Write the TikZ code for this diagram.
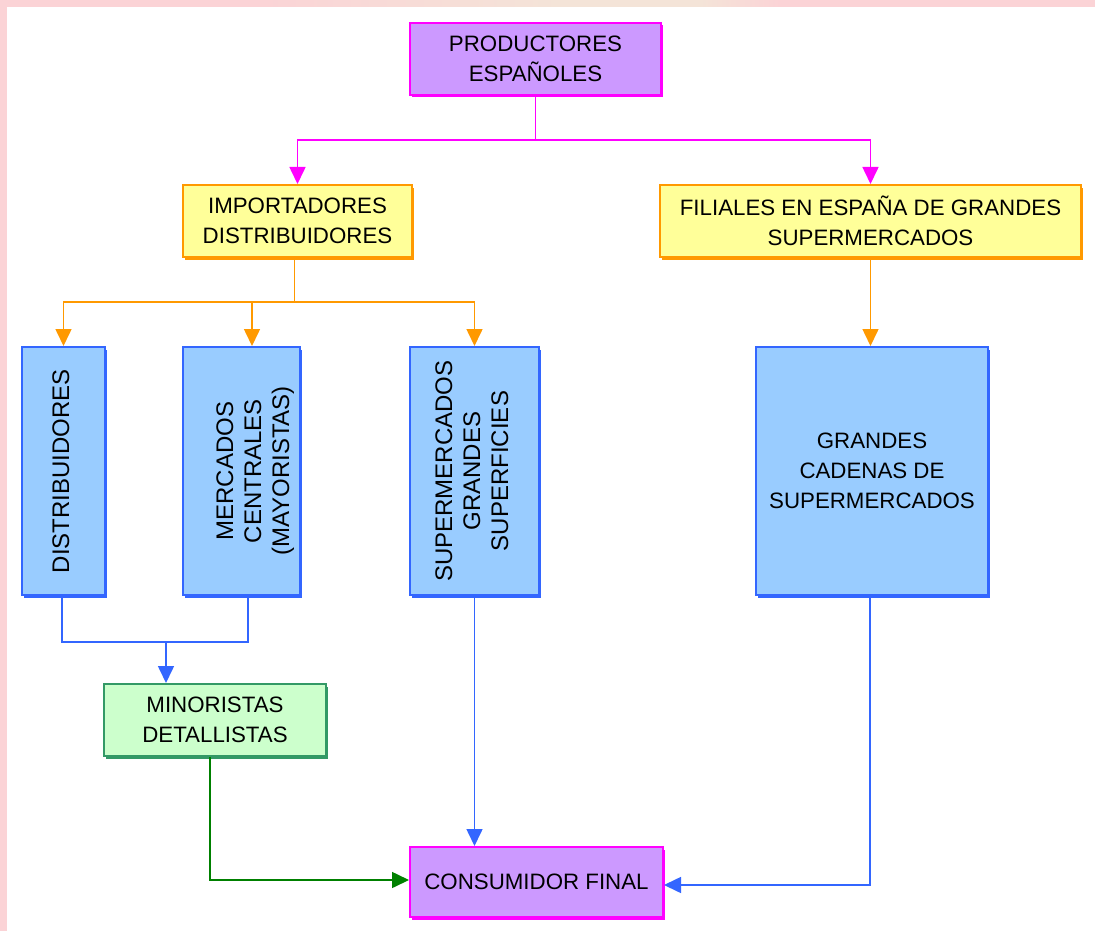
\documentclass[tikz,border=0pt]{standalone}
\usepackage{fontspec}
\setmainfont{Liberation Sans}
\usetikzlibrary{arrows.meta,shadows}

\definecolor{magline}{HTML}{FF00FF}
\definecolor{lilac}{HTML}{CC99FF}
\definecolor{orline}{HTML}{FF9900}
\definecolor{lemon}{HTML}{FFFF99}
\definecolor{blline}{HTML}{3366FF}
\definecolor{skyfill}{HTML}{99CCFF}
\definecolor{grline}{HTML}{339966}
\definecolor{mint}{HTML}{CCFFCC}
\definecolor{grarrow}{HTML}{008000}
\definecolor{rosebg}{HTML}{FBD3D6}
\definecolor{sandbg}{HTML}{F4E4D8}

\newcommand{\hfont}{\fontsize{22.3}{30}\selectfont}
\newcommand{\vfont}{\fontsize{24}{28}\selectfont}
\newcommand{\vtext}[1]{\rotatebox{90}{\vfont\begin{tabular}{@{}c@{}}#1\end{tabular}}}

\begin{document}
\begin{tikzpicture}[x=1pt,y=-1pt,
  box/.style={draw=#1, line width=2pt, inner sep=0pt, align=center,
    font=\hfont,
    drop shadow={shadow xshift=1.5pt, shadow yshift=-2.5pt, fill=#1, opacity=1}},
  purplebox/.style={box=magline, fill=lilac},
  yellowbox/.style={box=orline, fill=lemon},
  bluebox/.style={box=blline, fill=skyfill},
  greenbox/.style={box=grline, fill=mint},
  link/.style={line width=1.6pt},
  tip/.style={-{Triangle[length=17pt,width=16pt]}},
  maglink/.style={link, draw=magline},
  orlink/.style={link, draw=orline},
  bllink/.style={link, draw=blline},
  grlink/.style={link, draw=grarrow}]

% page and its tinted edges
\useasboundingbox (0,0) rectangle (1095,931);
\fill[white] (0,0) rectangle (1095,931);
\fill[rosebg] (0,0) rectangle (7,931);
\fill[rosebg] (0,0) rectangle (1095,7);
\shade[left color=rosebg, right color=sandbg] (250,0) rectangle (560,7);
\fill[sandbg] (560,0) rectangle (700,7);
\shade[left color=sandbg, right color=rosebg] (700,0) rectangle (780,7);

% boxes
\node[purplebox, minimum width=251pt, minimum height=72pt] (prod) at (535.5,59)
  {PRODUCTORES\\ESPAÑOLES};
\node[yellowbox, minimum width=229pt, minimum height=72pt] (imp) at (297.5,221)
  {IMPORTADORES\\DISTRIBUIDORES};
\node[yellowbox, minimum width=421pt, minimum height=72pt] (fil) at (870.5,221)
  {FILIALES EN ESPAÑA DE GRANDES\\SUPERMERCADOS};
\node[bluebox, minimum width=83pt, minimum height=248pt] (dist) at (63.5,471)
  {\vtext{DISTRIBUIDORES}};
\node[bluebox, minimum width=117pt, minimum height=248pt] (merc) at (241.5,471)
  {\hspace*{28pt}\vtext{MERCADOS\\CENTRALES\\(MAYORISTAS)}};
\node[bluebox, minimum width=129pt, minimum height=248pt] (sup) at (474.5,471)
  {\vtext{SUPERMERCADOS\\GRANDES\\SUPERFICIES}};
\node[bluebox, minimum width=232pt, minimum height=248pt] (cad) at (872,471)
  {GRANDES\\CADENAS DE\\SUPERMERCADOS};
\node[greenbox, minimum width=222pt, minimum height=72pt] (mino) at (215,720)
  {MINORISTAS\\DETALLISTAS};
\node[purplebox, minimum width=253pt, minimum height=70pt] (cons) at (536.5,882)
  {CONSUMIDOR FINAL};

% producers split into the two channels
\draw[maglink] (prod.south) -- ++(0,44) coordinate (pj);
\draw[maglink, tip] (pj) -| (imp.north);
\draw[maglink, tip] (pj) -| (fil.north);

% importers feed three outlets
\draw[orlink] ([xshift=-3pt]imp.south) -- ++(0,44) coordinate (ij);
\draw[orlink, tip] (ij) -| (dist.north);
\draw[orlink, tip] (ij) -| ([xshift=10.5pt]merc.north);
\draw[orlink, tip] (ij) -| (sup.north);
\draw[orlink, tip] (fil.south) -- (fil.south |- cad.north);

% wholesale channels merge into retail
\draw[bllink] ([xshift=-1.5pt]dist.south) -- ++(0,46) coordinate (dj)
  -| ([xshift=6.5pt]merc.south);
\coordinate (mj) at (166,642);
\draw[bllink, tip] (mj) -- (mj |- mino.north);

% everything ends at the final consumer
\draw[grlink, tip] ([xshift=-5pt]mino.south) |- ([yshift=2pt]cons.west);
\draw[bllink, tip] (sup.south) -- (sup.south |- cons.north);
\draw[bllink, tip] ([xshift=-2pt]cad.south) |- ([yshift=-3pt]cons.east);
\end{tikzpicture}
\end{document}
